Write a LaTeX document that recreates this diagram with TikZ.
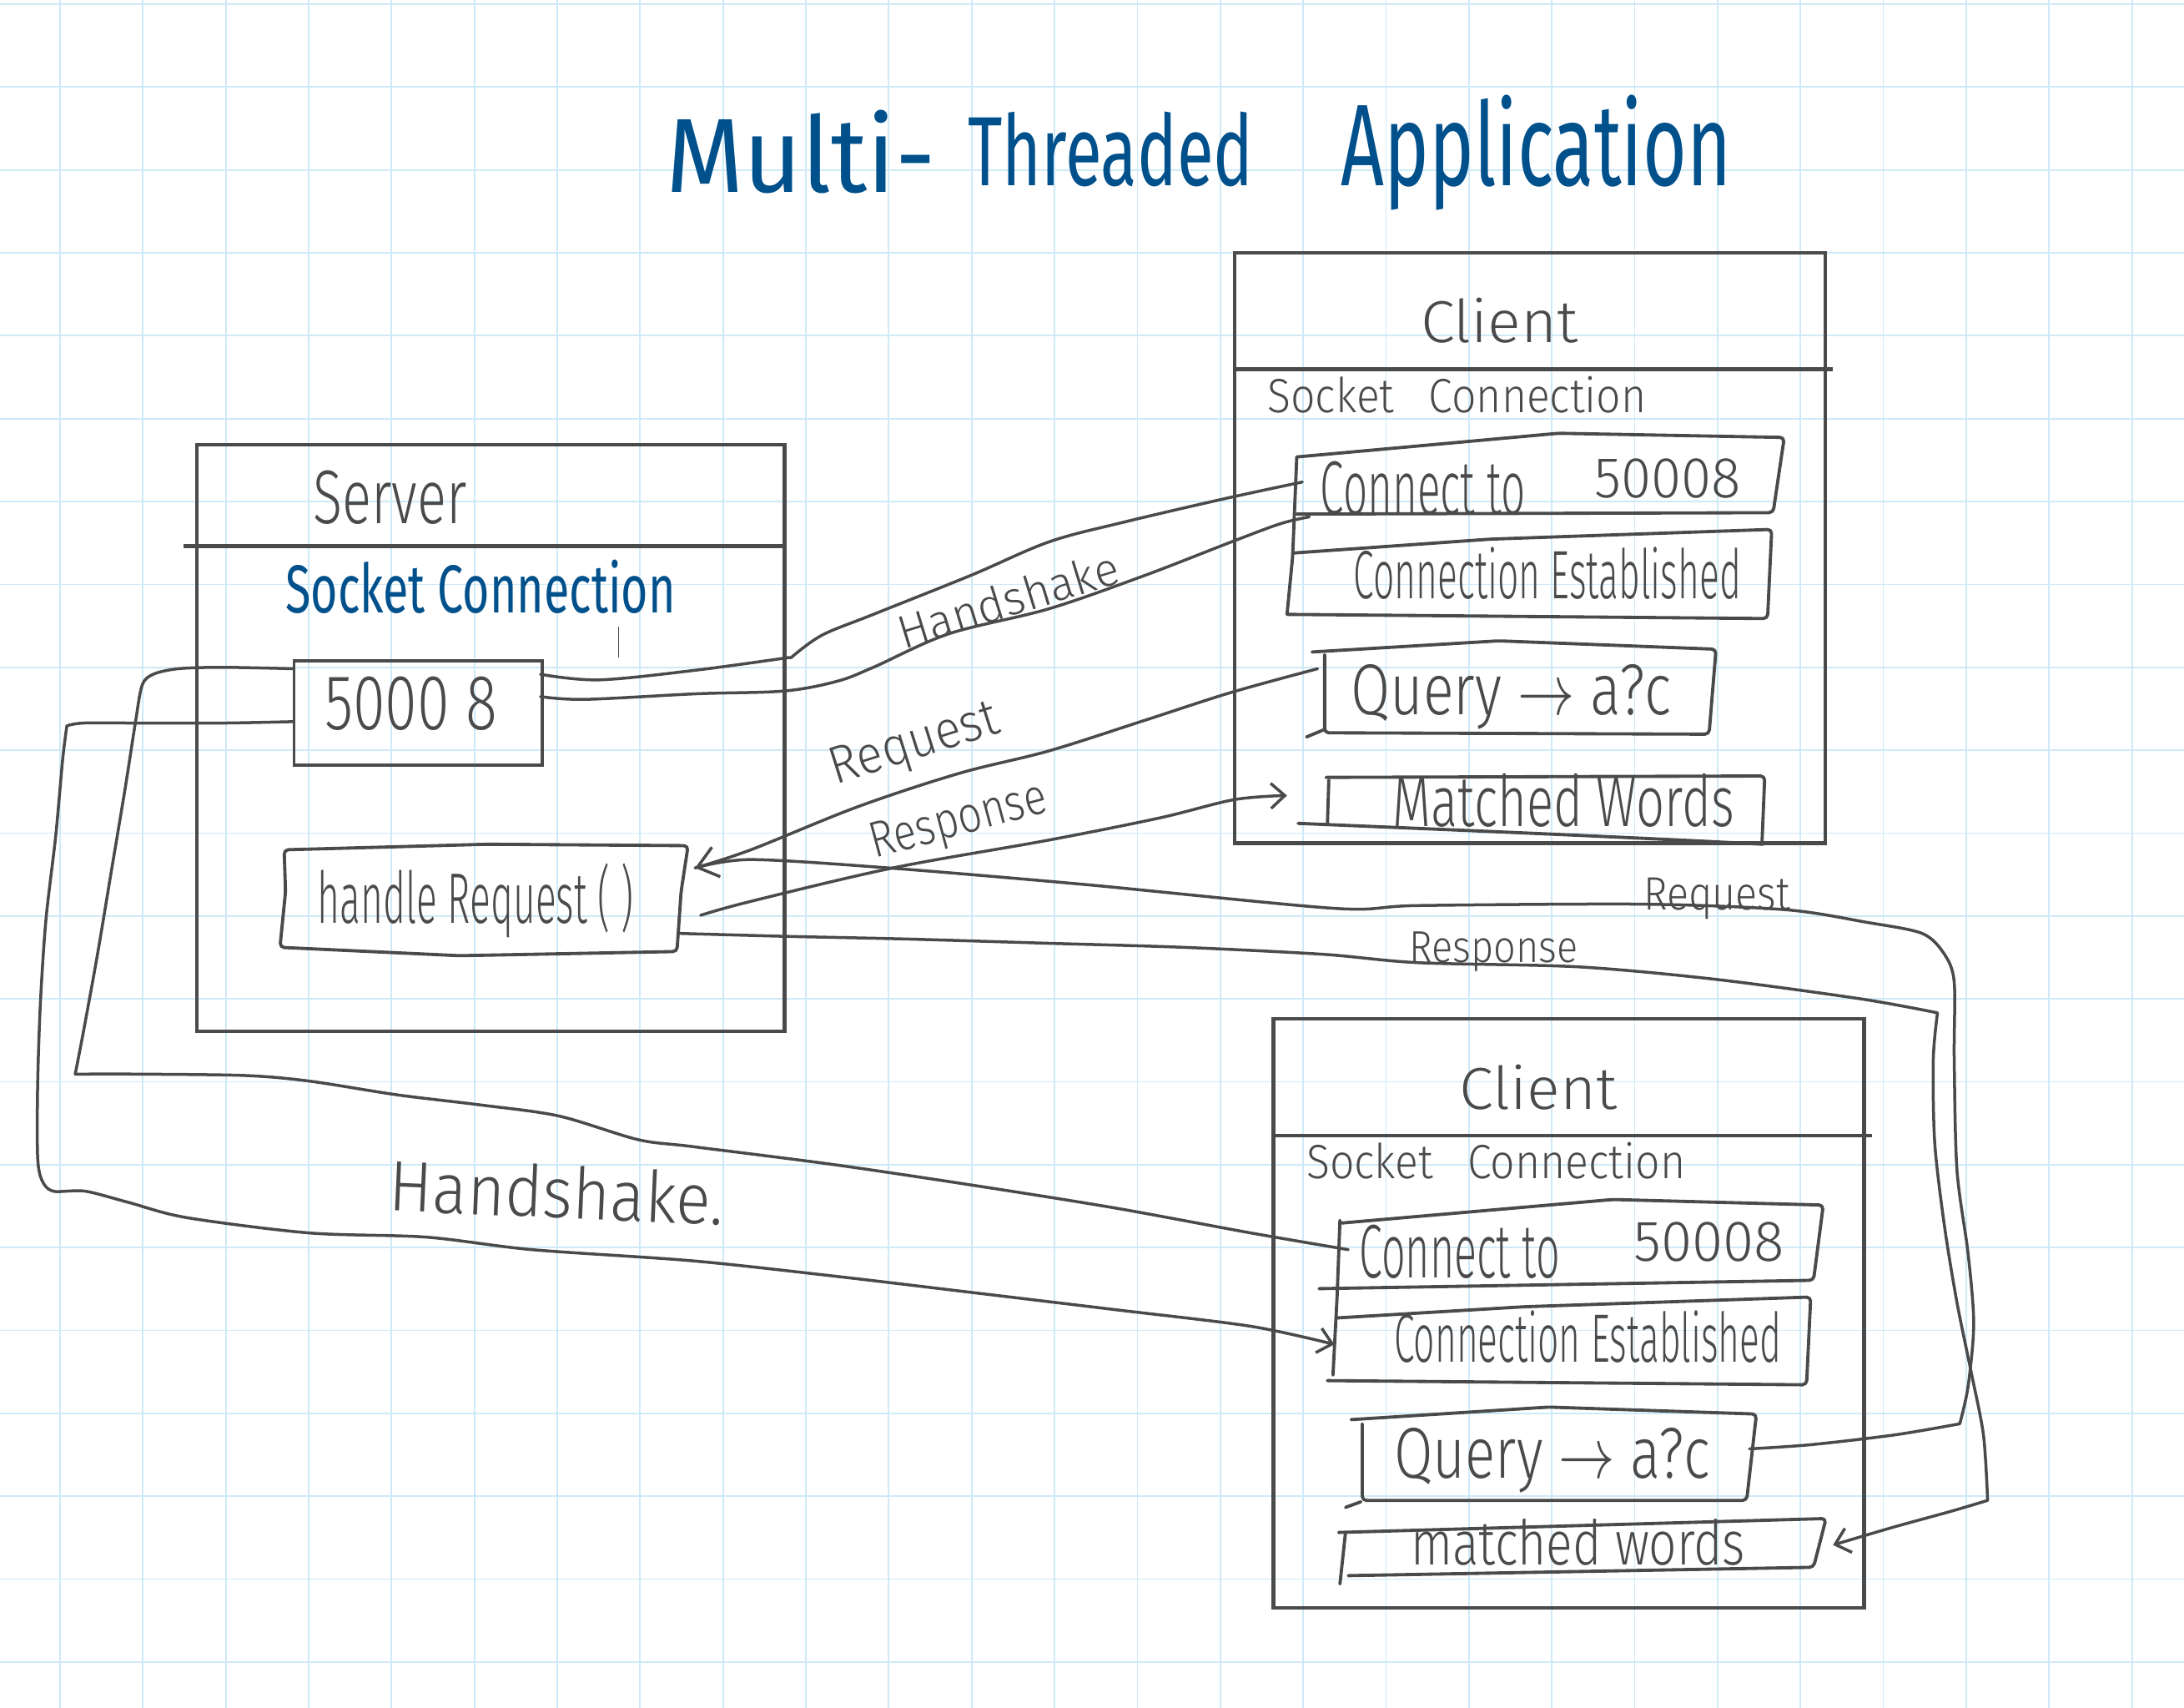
\documentclass[tikz,border=0pt]{standalone}
\usepackage{fontspec}
\setmainfont{Fira Sans Light}
\newfontfamily\penfont{Fira Sans}
\usepackage{graphicx}
\usetikzlibrary{arrows.meta}
\definecolor{ink}{RGB}{74,74,74}
\definecolor{penblue}{RGB}{0,80,140}
\definecolor{gridblue}{RGB}{206,234,248}
\newcommand{\hwt}[3]{\resizebox{#1pt}{#2pt}{#3}}
\begin{document}
\begin{tikzpicture}[x=0.5pt,y=-0.5pt,
  frame/.style={draw=ink,line width=1.3pt},
  sketch/.style={draw=ink,line width=1.15pt,line cap=round,line join=round,rounded corners=1.5pt},
  wire/.style={draw=ink,line width=1.05pt,line cap=round,line join=round},
  barb/.style={-{Straight Barb[length=5pt,width=9pt]}},
  bigbarb/.style={-{Straight Barb[length=7pt,width=11pt]}},
  hw/.style={inner sep=0pt,outer sep=0pt,anchor=base west,text=ink},
  hwb/.style={hw,text=penblue,font=\penfont}]

% background and grid
\fill[white] (0,0) rectangle (1568,1226);
\useasboundingbox (0,0) rectangle (1568,1226);
\foreach \i in {0,...,25}{\draw[gridblue,line width=0.55pt] ({43.1+59.5*\i},0) -- ({43.1+59.5*\i},1226);}
\foreach \j in {0,...,20}{\draw[gridblue,line width=0.55pt] (0,{3+59.5*\j}) -- (1568,{3+59.5*\j});}

% title
\node[hwb] (tA) at (478,138) {\hwt{97}{29.5}{Multi-}};
\node[hwb] (tB) at (695,133) {\hwt{102.5}{26.5}{Threaded}};
\node[hwb] (tC) at (963,133) {\hwt{140}{32.5}{Application}};

% ---------------- server ----------------
\node[frame,anchor=north west,minimum width=211pt,minimum height=210.5pt,inner sep=0pt] (server) at (140,318) {};
\draw[frame] (132,392) -- (562,392);
\node[hw] (srvT) at (225,376) {\hwt{55}{19}{Server}};
\node[hwb] (srvS) at (205,440) {\hwt{140}{19}{Socket Connection}};
\draw[ink,line width=0.3pt] (444,450) -- (444,472);
\node[draw=ink,line width=1.15pt,anchor=north west,minimum width=89pt,minimum height=37.5pt,inner sep=0pt] (port) at (210,473) {};
\node[hw] (portT) at (233,524) {\hwt{62}{19}{5000 8}};
\draw[sketch] (204,610) -- (350,606) -- (494,607) -- (489,640) -- (486,683) -- (330,686) -- (201,680) -- (205,640) -- cycle;
\node[hw] (hrT) at (228,663) {\hwt{113.5}{21.5}{handle Request ( )}};

% ---------------- client 1 ----------------
\node[frame,anchor=north west,minimum width=212pt,minimum height=212pt,inner sep=0pt] (cl1) at (885,180) {};
\draw[frame] (885,265) -- (1316,265);
\node[hw] (cl1T) at (1020,246) {\hwt{56.5}{16}{Client}};
\node[hw] (cl1S) at (910,296) {\hwt{136}{13}{Socket\hspace{0.8em}Connection}};
\draw[sketch] (931,328) -- (1119,311) -- (1281,314) -- (1273,368) -- (931,369);
\draw[sketch] (931,328) -- (928,400) -- (924,441);
\node[hw] (cn1a) at (948,369) {\hwt{73.5}{19}{Connect to}};
\node[hw] (cn1b) at (1145,357) {\hwt{52.5}{14}{50008}};
\draw[sketch] (928,397) -- (1070,387) -- (1272,380) -- (1269,444) -- (924,441);
\node[hw] (ce1) at (972,430) {\hwt{139}{18.5}{Connection Established}};
\draw[sketch] (942,468) -- (1076,460) -- (1232,466) -- (1227,527) -- (951,526) -- (951,470);
\draw[sketch] (938,529) -- (950,524);
\node[hw] (qu1) at (970,513) {\hwt{115}{18}{Query $\rightarrow$ a?c}};
\draw[sketch] (952,558) -- (1267,557) -- (1265,605);
\draw[sketch] (932,591) .. controls (1050,596) and (1150,600) .. (1266,606);
\draw[sketch] (954,560) -- (953,592);
\node[hw] (mw1T) at (1000,593) {\hwt{122.5}{19}{Matched Words}};

% ---------------- client 2 ----------------
\node[frame,anchor=north west,minimum width=212pt,minimum height=211.5pt,inner sep=0pt] (cl2) at (913,730) {};
\draw[frame] (913,815) -- (1344,815);
\node[hw] (cl2T) at (1048,796) {\hwt{56.5}{16}{Client}};
\node[hw] (cl2S) at (938,846) {\hwt{136}{13}{Socket\hspace{0.8em}Connection}};
\draw[sketch] (962,878) -- (1158,861) -- (1309,865) -- (1302,919) -- (947,925);
\draw[sketch] (962,876) -- (960,930) -- (957,987);
\node[hw] (cn2a) at (976,917) {\hwt{72}{19}{Connect to}};
\node[hw] (cn2b) at (1173,905) {\hwt{54}{14}{50008}};
\draw[sketch] (960,946) -- (1094,938) -- (1300,931) -- (1297,994) -- (953,991);
\node[hw] (ce2) at (1001,978) {\hwt{139}{18.5}{Connection Established}};
\draw[sketch] (970,1019) -- (1112,1010) -- (1261,1015) -- (1254,1077) -- (978,1077) -- (978,1022);
\draw[sketch] (966,1082) -- (977,1078);
\node[hw] (qu2) at (1001,1061) {\hwt{113.5}{18}{Query $\rightarrow$ a?c}};
\draw[sketch] (961,1100) -- (1311,1090) -- (1302,1125) -- (968,1131);
\draw[sketch] (966,1100) -- (962,1137);
\node[hw] (mw2T) at (1013,1123) {\hwt{120}{16.5}{matched words}};

% ---------------- connector end points ----------------
\coordinate (pA) at (388,484);
\coordinate (pB) at (388,500);
\coordinate (pC) at (210,480);
\coordinate (pD) at (210,518);
\coordinate (hrIn) at (499,623);
\coordinate (hrOutA) at (503,657);
\coordinate (hrOutB) at (488,670);
\coordinate (cn1L) at (935,346);
\coordinate (cn1B) at (940,371);
\coordinate (qu1L) at (946,480);
\coordinate (mw1L) at (924,571);
\coordinate (cn2L) at (968,897);
\coordinate (ce2L) at (958,965);
\coordinate (qu2R) at (1256,1040);
\coordinate (mw2R) at (1316,1109);

% ---------------- connectors ----------------
% handshake to client 1
\draw[wire] plot[smooth,tension=0.55] coordinates {(pA) (430,488) (500,481) (566,472)}
  -- plot[smooth,tension=0.55] coordinates {(568,472) (590,456) (627,441) (697,413) (753,389) (806,375) (879,358) (cn1L)};
\draw[wire] plot[smooth,tension=0.55] coordinates {(pB) (420,502) (500,498) (563,496) (601,489) (627,479) (681,455) (753,437) (822,413) (884,389) (919,376) (cn1B)};
% request / response with client 1
\draw[wire,bigbarb] plot[smooth,tension=0.55] coordinates {(qu1L) (884,497) (822,517) (753,539) (689,555) (616,579) (539,610) (hrIn)};
\draw[wire,barb] plot[smooth,tension=0.55] coordinates {(hrOutA) (539,647) (641,623) (753,603) (833,587) (886,574) (mw1L)};
% request from client 2
\draw[wire] plot[smooth,tension=0.5] coordinates {(qu2R) (1300,1037) (1360,1030) (1407,1022)}
  -- plot[smooth,tension=0.5] coordinates {(1407,1022) (1413,995) (1417,950) (1413,900) (1405,840) (1403,760) (1403,705) (1396,685) (1380,670) (1340,662) (1282,653) (1179,649) (1018,650) (958,652) (780,635) (638,623) (539,617) (hrIn)};
% response to client 2
\draw[wire,barb] plot[smooth,tension=0.5] coordinates {(hrOutB) (560,672) (650,674) (750,677) (850,680) (950,685) (1018,691) (1133,694) (1232,703) (1336,717) (1391,727)}
  -- plot[smooth,tension=0.5] coordinates {(1391,727) (1388,760) (1389,820) (1396,880) (1405,935) (1415,984) (1424,1030) (1427,1077)}
  -- plot[smooth,tension=0.5] coordinates {(1427,1077) (1400,1085) (1360,1096) (mw2R)};
% handshake to client 2
\draw[wire] plot[smooth,tension=0.5] coordinates {(pC) (160,479) (128,480) (110,484) (102,492) (97,520) (90,565) (80,625) (70,685) (60,740) (54,771)}
  -- plot[smooth,tension=0.5] coordinates {(54,771) (100,771) (176,772) (222,776) (286,786) (344,793) (401,801) (458,818) (497,823) (599,836) (700,851) (800,867) (898,885) (cn2L)};
\draw[wire,barb] plot[smooth,tension=0.5] coordinates {(pD) (160,519) (100,519) (60,519) (48,521)}
  -- plot[smooth,tension=0.5] coordinates {(48,521) (45,545) (40,600) (33,660) (29,720) (27,780) (27,830) (30,847) (38,855) (61,855) (92,863) (134,874) (222,885) (306,888) (382,897) (497,905) (599,916) (700,928) (800,940) (898,952) (ce2L)};

% ---------------- connector labels ----------------
\node[hw,rotate=17] (lbHS1) at (649,466) {\hwt{82}{12.5}{Handshake}};
\node[hw,rotate=17.5] (lbRq1) at (600,563) {\hwt{62.5}{13}{Request}};
\node[hw,rotate=15] (lbRs1) at (628,616) {\hwt{65}{12.5}{Response}};
\node[hw] (lbRq2) at (1180,653) {\hwt{52.5}{11.5}{Request}};
\node[hw] (lbRs2) at (1012,691) {\hwt{60.5}{11}{Response}};
\node[hw,rotate=-2.5] (lbHS2) at (279,869) {\hwt{120}{19}{Handshake.}};
\end{tikzpicture}
\end{document}
